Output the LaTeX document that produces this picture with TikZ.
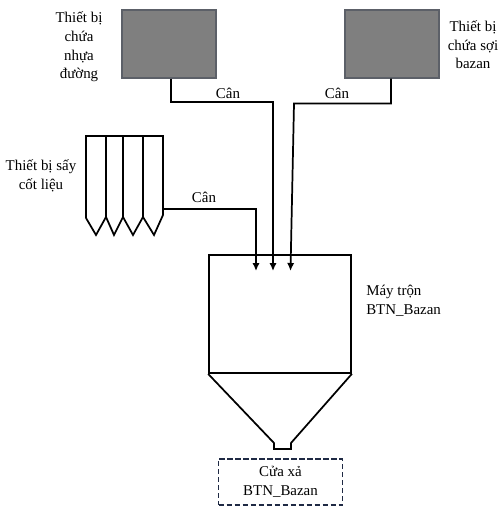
\documentclass[tikz,border=0pt]{standalone}
\usepackage{fontspec}
\setmainfont{Liberation Serif}
\usetikzlibrary{arrows.meta}
\definecolor{tankGray}{HTML}{7F7F7F}
\definecolor{tankEdge}{HTML}{5C6068}
\definecolor{boxNavy}{HTML}{1F2A44}
\tikzset{
  tank/.style={draw=tankEdge,fill=tankGray,line width=0.8pt,minimum width=70.5pt,minimum height=51pt,inner sep=0pt},
  label/.style={align=center,inner sep=0pt},
  feed/.style={line width=1.3pt,black},
  feedarrow/.style={feed,-{Latex[length=6pt,width=5.5pt]}}
}
\begin{document}
\begin{tikzpicture}[x=0.75pt,y=-0.75pt,font=\fontsize{11.2}{14}\selectfont]
  \useasboundingbox (0,0) rectangle (499,506);
  % thiet bi chua
  \node[tank] (tankNhua) at (169,44) {};
  \node[tank] (tankSoi) at (392,44) {};
  \node[label] (lblNhua) at (79,47) {Thiết bị\\chứa\\nhựa\\đường};
  \node[label] (lblSoi) at (473,45) {Thiết bị\\chứa sợi\\bazan};
  % thiet bi say
  \coordinate (dryOut) at (163.5,209);
  \draw[feed,line join=miter] (86,218) -- (86,136) -- (163,136) -- (163,215) -- (154,235) -- (143,217) -- (133,235) -- (123,217) -- (114,235) -- (106,217) -- (96,235) -- (86,218);
  \draw[feed] (106,136) -- (106,217);
  \draw[feed] (123,136) -- (123,217);
  \draw[feed] (143,136) -- (143,217);
  \node[label] (lblSay) at (41,176) {Thiết bị sấy\\cốt liệu};
  % may tron
  \node[draw,line width=1.3pt,minimum width=106.5pt,minimum height=88.5pt,inner sep=0pt] (mixer) at (280,314) {};
  \draw[feed,line join=miter] (mixer.south west) -- (274,443) -- (274,449) -- (291,449) -- (291,443) -- (mixer.south east);
  \node[label,align=left,anchor=west] (lblMixer) at (366,301) {Máy trộn\\BTN\_Bazan};
  % cua xa
  \node[draw=boxNavy,line width=1.2pt,dash pattern=on 4pt off 2pt,minimum width=93pt,minimum height=34.5pt,label,align=center] (outlet) at (280.5,482) {\raisebox{-2.5pt}{Cửa xả}\\\raisebox{-2.5pt}{BTN\_Bazan}};
  % day can
  \coordinate (endA) at (256,271);
  \coordinate (endB) at (273,271);
  \coordinate (endC) at (290.5,271);
  \draw[feedarrow] (dryOut) -- (256,209) -- (endA);
  \draw[feedarrow] ([xshift=1.5pt]tankNhua.south) -- (171,102) -- (273,102) -- (endB);
  \draw[feedarrow] ([xshift=-0.75pt]tankSoi.south) -- (391,103.5) -- (294,103.5) -- (endC);
  \node[label] (canA) at (204,197) {Cân};
  \node[label] (canB) at (228,93.5) {Cân};
  \node[label] (canC) at (337,93.5) {Cân};
\end{tikzpicture}
\end{document}
